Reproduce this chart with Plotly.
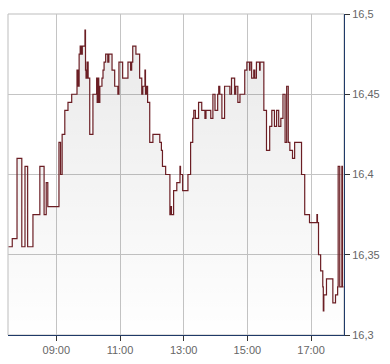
import plotly.graph_objects as go

day = "2024-03-15 "
times = ["07:30","07:37","07:46","07:55","08:01","08:06","08:16","08:29","08:37","08:41","08:44",
         "09:05","09:08","09:11","09:16","09:22","09:29","09:39","09:41","09:43","09:45","09:47","09:49",
         "09:54","09:55","09:56","09:58","10:00","10:03","10:09","10:16","10:17","10:18","10:20","10:22",
         "10:26","10:28","10:30","10:33","10:37","10:39","10:45","10:50","10:56","10:58","11:05","11:15",
         "11:20","11:22","11:24","11:30","11:37","11:41","11:43","11:47","11:48","11:50","11:52","11:56",
         "12:02","12:15","12:18","12:20","12:26","12:34","12:36","12:37","12:41","12:47","12:53","12:54",
         "12:58","13:08","13:13","13:17","13:19","13:22","13:28","13:34","13:40","13:42","13:51","13:55",
         "13:59","14:04","14:06","14:08","14:12","14:17","14:27","14:30","14:36","14:38","14:42","14:46",
         "14:55","14:59","15:04","15:05","15:08","15:12","15:14","15:17","15:23","15:24","15:31","15:36",
         "15:42","15:46","15:51","15:55","15:59","16:03","16:07","16:11","16:14","16:17","16:20","16:25",
         "16:29","16:42","16:48","16:57","17:11","17:12","17:14","17:18","17:20","17:22","17:23","17:24",
         "17:29","17:41","17:46","17:50","17:51","17:54","17:58","17:59","18:01"]
prices = [16.355,16.36,16.41,16.355,16.405,16.355,16.375,16.405,16.375,16.395,16.38,
          16.42,16.40,16.425,16.44,16.445,16.45,16.465,16.455,16.475,16.48,16.475,16.48,
          16.49,16.465,16.46,16.47,16.46,16.425,16.45,16.46,16.445,16.46,16.445,16.455,
          16.46,16.465,16.47,16.475,16.47,16.475,16.465,16.455,16.45,16.47,16.46,16.47,
          16.465,16.47,16.48,16.475,16.46,16.45,16.455,16.465,16.45,16.455,16.445,16.42,
          16.425,16.42,16.415,16.405,16.40,16.375,16.38,16.375,16.39,16.395,16.405,16.40,
          16.39,16.40,16.42,16.435,16.44,16.435,16.445,16.44,16.435,16.44,16.435,16.45,
          16.44,16.45,16.455,16.45,16.435,16.455,16.45,16.46,16.45,16.455,16.445,16.45,
          16.465,16.47,16.465,16.47,16.46,16.465,16.46,16.47,16.465,16.47,16.44,16.415,
          16.43,16.44,16.43,16.44,16.43,16.435,16.45,16.42,16.455,16.42,16.415,16.41,
          16.42,16.40,16.375,16.37,16.375,16.37,16.35,16.34,16.34,16.33,16.315,16.325,
          16.335,16.32,16.325,16.33,16.405,16.33,16.405,16.33,16.33]

x_ticks = ["09:00","11:00","13:00","15:00","17:00"]
y_ticks = [16.3,16.35,16.4,16.45,16.5]
y_labels = ["16,3","16,35","16,4","16,45","16,5"]

xs = [day + t for t in times]

fig = go.Figure()
fig.add_trace(go.Scatter(
    x=xs, y=prices, mode="lines", line=dict(color="#6b1e24", width=1.2, shape="hv"),
    fill="tozeroy",
    fillgradient=dict(type="vertical", start=16.3, stop=16.5,
                      colorscale=[[0, "rgba(0,0,0,0.0)"], [1, "rgba(0,0,0,0.09)"]]),
    hoverinfo="skip", showlegend=False))

fig.update_layout(
    width=390, height=364, margin=dict(l=8, r=46, t=11, b=24),
    paper_bgcolor="white", plot_bgcolor="white",
    font=dict(family="Liberation Sans, Arial, sans-serif", size=11, color="#666666"),
    shapes=[dict(type="rect", xref="paper", yref="paper", x0=0, x1=1, y0=0, y1=1,
                 line=dict(color="#bdbdbd", width=1), layer="below")],
    xaxis=dict(range=[day + "07:29", day + "18:02"], type="date",
               tickvals=[day + t for t in x_ticks], ticktext=x_ticks,
               showgrid=True, gridcolor="#c4c4c4", gridwidth=1,
               showline=True, linecolor="#1f3a68", linewidth=1,
               ticks="outside", ticklen=5, tickcolor="#333333", zeroline=False),
    yaxis=dict(range=[16.3, 16.5], side="right",
               tickvals=y_ticks, ticktext=y_labels,
               showgrid=True, gridcolor="#c4c4c4", gridwidth=1,
               showline=True, linecolor="#1f3a68", linewidth=1,
               ticks="outside", ticklen=5, tickcolor="#333333", zeroline=False),
)

fig.write_html("out.html")
